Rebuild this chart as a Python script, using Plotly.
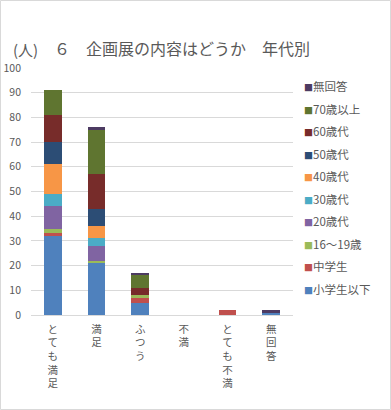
import plotly.graph_objects as go

categories = ["とても満足", "満足", "ふつう", "不満", "とても不満", "無回答"]
series_names = ["小学生以下", "中学生", "16～19歳", "20歳代", "30歳代",
                "40歳代", "50歳代", "60歳代", "70歳以上", "無回答"]
v_elem = [32, 21, 5, 0, 0, 1]
v_jhs = [1, 0, 2, 0, 2, 0]
v_16_19 = [2, 1, 1, 0, 0, 0]
v_20s = [9, 6, 0, 0, 0, 0]
v_30s = [5, 3, 0, 0, 0, 0]
v_40s = [12, 5, 0, 0, 0, 0]
v_50s = [9, 7, 0, 0, 0, 0]
v_60s = [11, 14, 3, 0, 0, 0]
v_70s = [10, 18, 5, 0, 0, 0]
v_na = [0, 1, 1, 0, 0, 1]
y_ticks = [0, 10, 20, 30, 40, 50, 60, 70, 80, 90, 100]

series_values = [v_elem, v_jhs, v_16_19, v_20s, v_30s, v_40s, v_50s, v_60s, v_70s, v_na]
colors = ["#4F81BD", "#C0504D", "#9BBB59", "#8064A2", "#4BACC6",
          "#F79646", "#2C4D75", "#772C2A", "#5F7530", "#4D3B62"]

FONT = "Noto Sans CJK JP"
GRAY = "#595959"

fig = go.Figure()
for name, vals, c in zip(series_names, series_values, colors):
    fig.add_trace(go.Bar(x=categories, y=vals, name=name, marker=dict(color=c, line=dict(width=0)),
                         showlegend=False))
# legend entries (top to bottom: 無回答 ... 小学生以下)
for i, (name, c) in enumerate(reversed(list(zip(series_names, colors)))):
    fig.add_trace(go.Scatter(
        x=[None], y=[None], mode="markers",
        marker=dict(opacity=0, size=0, color="rgba(0,0,0,0)"),
        name=f'<span style="font-size:9px;color:{c}">■</span>{name}',
        legendgroup=f"g{i}", showlegend=True))

W, H = 391, 410
L, R, T, B = 31, 98, 68, 95
pw, ph = W - L - R, H - T - B

fig.update_layout(
    width=W, height=H,
    barmode="stack", bargap=0.59,
    margin=dict(l=L, r=R, t=T, b=B, autoexpand=False),
    paper_bgcolor="white", plot_bgcolor="white",
    font=dict(family=FONT, color=GRAY, size=11),
    title=dict(text="６　企画展の内容はどうか　年代別", x=182 / W, xref="container", xanchor="center",
               y=1 - 49 / H, yref="container", yanchor="middle",
               font=dict(family=FONT, size=16, color=GRAY)),
    legend=dict(x=(264 - L) / pw, xanchor="left", y=1 + (T - 72) / ph, yanchor="top",
                traceorder="grouped", tracegroupgap=3.5,
                bgcolor="rgba(0,0,0,0)", itemwidth=30,
                font=dict(family=FONT, size=11.5, color=GRAY)),
    xaxis=dict(type="category", tickvals=categories,
               ticktext=["<br>".join(list(c)) for c in categories],
               showline=True, linecolor="#D9D9D9", linewidth=1,
               showgrid=False, ticks="", tickangle=0, automargin=False,
               tickfont=dict(family=FONT, size=10.5, color=GRAY),
               ticklabelstandoff=4),
    yaxis=dict(range=[0, 100], tickvals=y_ticks, showgrid=True, gridcolor="#D9D9D9",
               gridwidth=1, zeroline=False, ticks="", showline=False, automargin=False,
               tickfont=dict(family=FONT, size=10.5, color=GRAY),
               ticklabelstandoff=9),
)

fig.add_annotation(text="(人)", xref="paper", yref="paper",
                   x=(11 - L) / pw, xanchor="left", y=(315 - 49) / ph, yanchor="middle",
                   showarrow=False, font=dict(family=FONT, size=15, color=GRAY))

fig.add_shape(type="rect", xref="paper", yref="paper",
              x0=(0.5 - L) / pw, x1=(W - 0.5 - L) / pw,
              y0=(315 - (H - 0.5)) / ph, y1=(315 - 0.5) / ph,
              line=dict(color="#D9D9D9", width=1), fillcolor="rgba(0,0,0,0)", layer="below")

fig.write_html("out.html", config={"displayModeBar": False},
               post_script="document.body.style.margin='0';")
